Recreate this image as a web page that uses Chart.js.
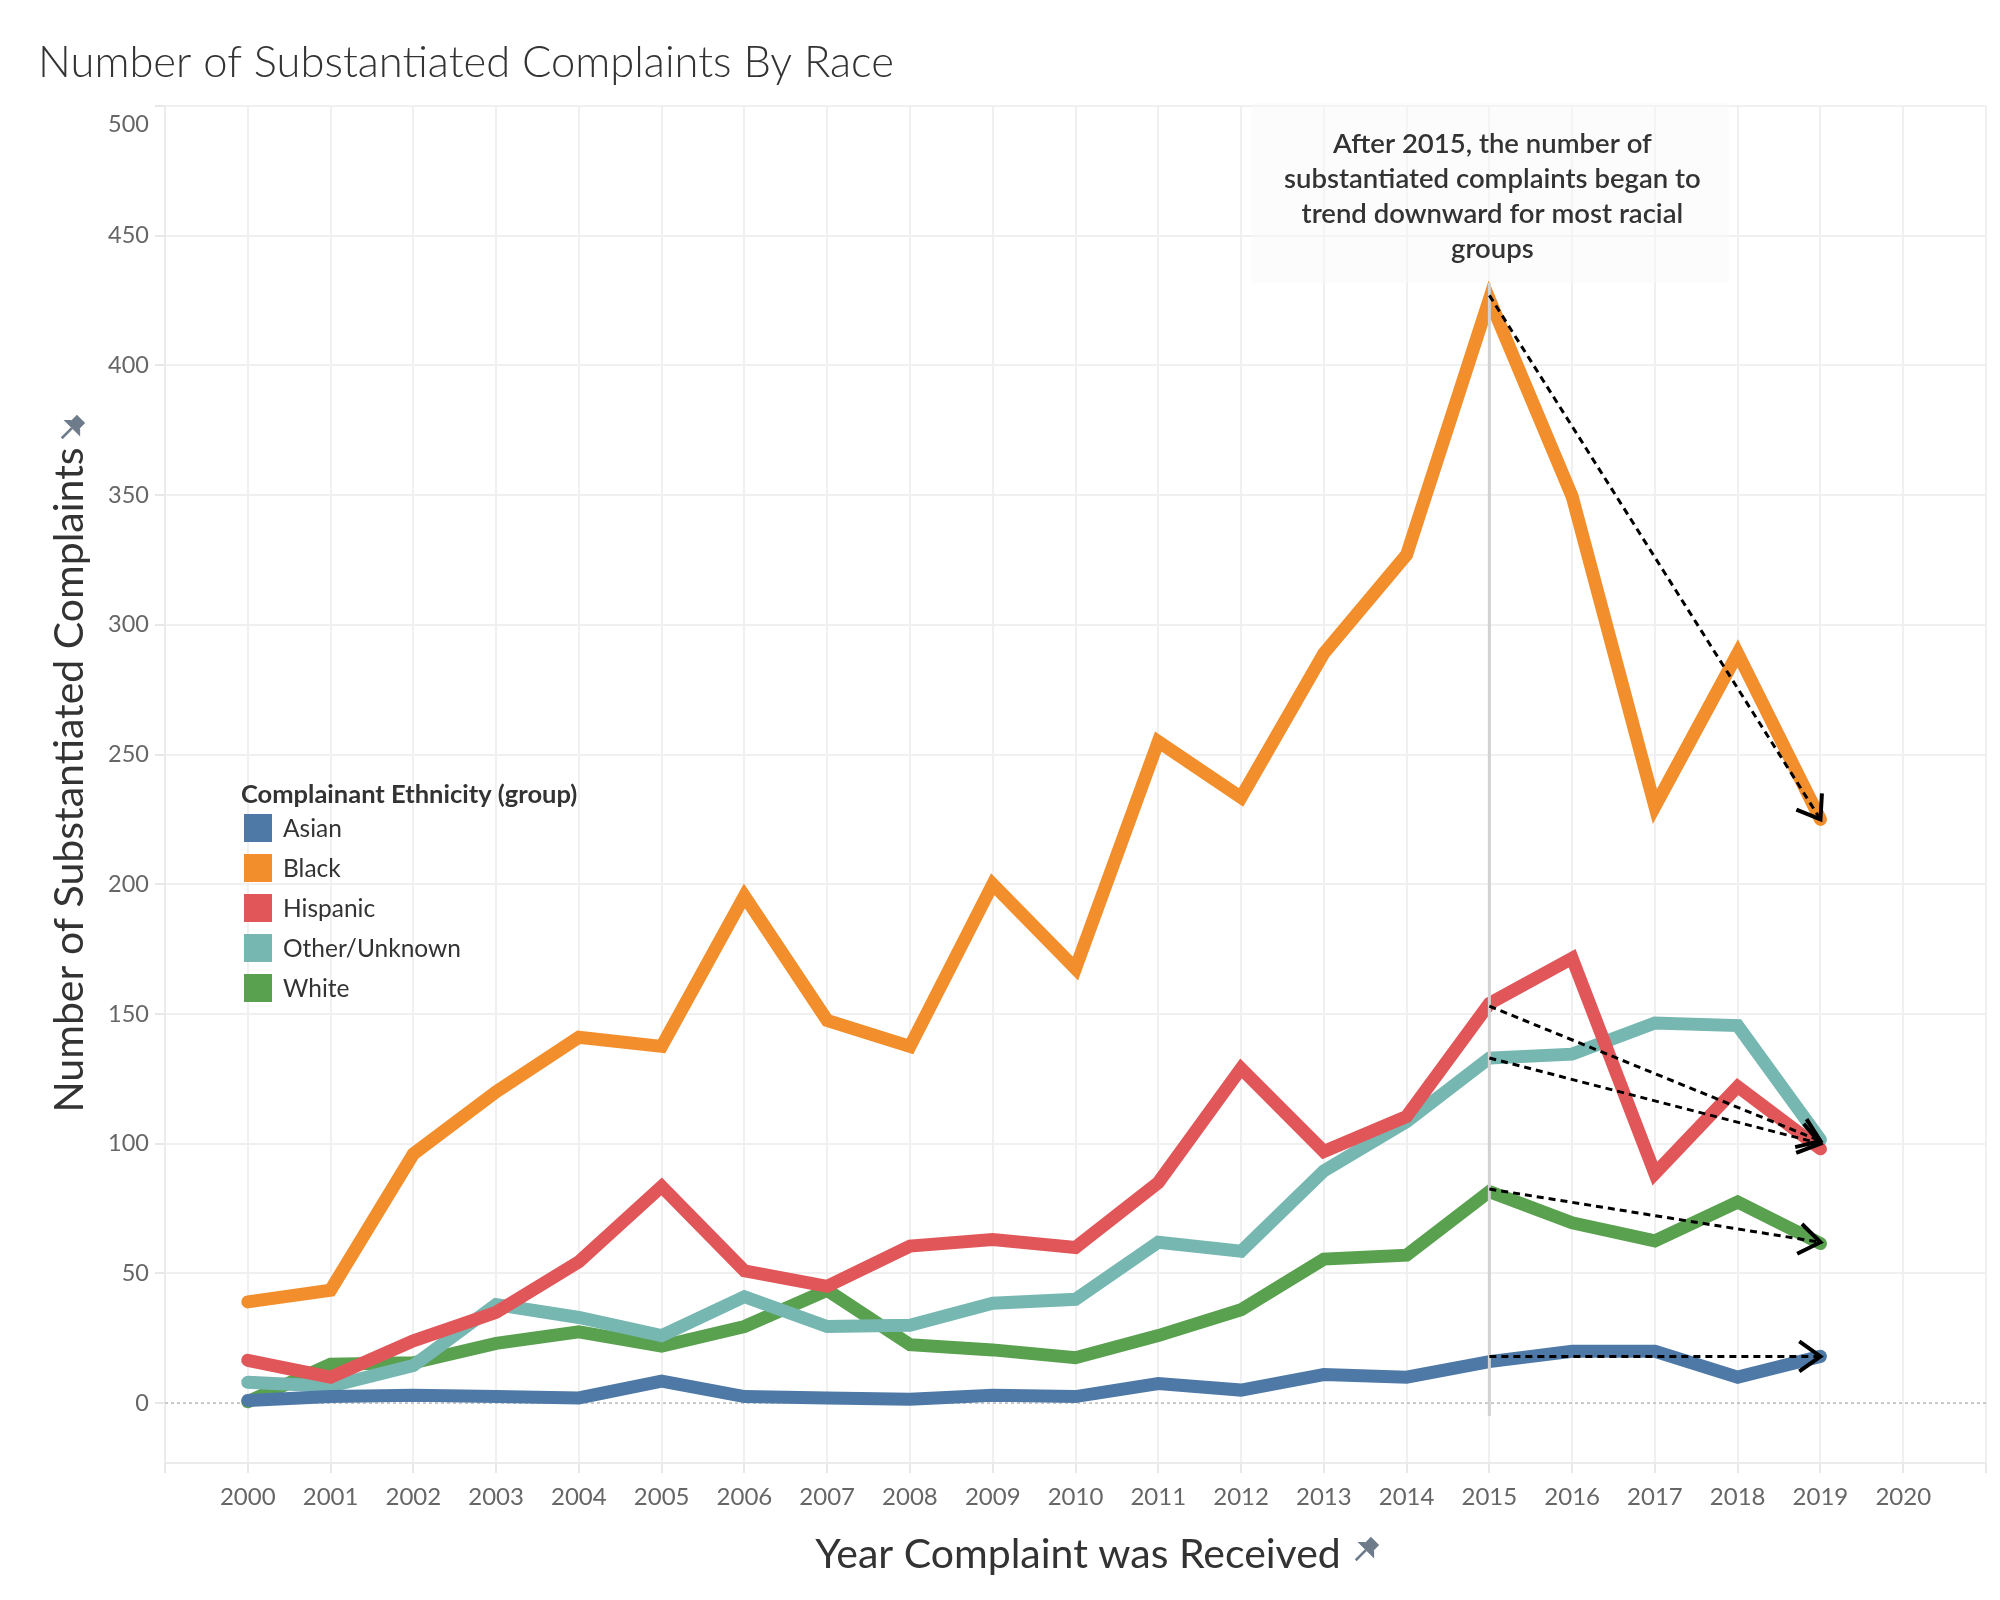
<!DOCTYPE html>
<html>
<head>
<meta charset="utf-8">
<script src="https://cdn.jsdelivr.net/npm/chart.js@4.4.0/dist/chart.umd.min.js"></script>
<style>
  html, body { margin: 0; padding: 0; background: #fff; }
  #wrap { width: 2000px; height: 1600px; }
</style>
</head>
<body>
<div id="wrap"><canvas id="raceChart" width="2000" height="1600"></canvas></div>
<script>
// values
const years = [2000, 2001, 2002, 2003, 2004, 2005, 2006, 2007, 2008, 2009,
               2010, 2011, 2012, 2013, 2014, 2015, 2016, 2017, 2018, 2019];
const groups = ['Asian', 'Black', 'Hispanic', 'Other/Unknown', 'White'];
const groupColors = ['#4e79a7', '#f28e2b', '#e15759', '#76b7b2', '#59a14f'];

const asian    = [1, 2.5, 3, 2.5, 2, 8.5, 2.5, 2, 1.5, 3, 2.5, 7.5, 5, 11, 10, 16, 20, 20, 10, 18];
const black    = [39, 43.5, 96, 120, 141, 137.5, 195.5, 147.5, 137.5, 200, 167.5, 255, 233.5, 289, 327, 425.5, 349.5, 230, 289, 225];
const hispanic = [16.5, 10, 24, 35, 54.5, 83.5, 51, 45, 60.5, 63, 60, 85, 129, 97, 110.5, 154, 171.5, 88.5, 122, 98];
const other    = [8, 6.5, 14.5, 38, 33, 26, 41, 29.5, 30, 38.5, 40, 62, 58.5, 89.5, 108.5, 133, 134.5, 146.5, 145.5, 101.5];
const white    = [0.5, 15, 15.5, 23, 27.5, 22, 29.5, 43.5, 22.5, 20.5, 17.5, 26, 36, 55.5, 57, 81.5, 69.5, 62.5, 77.5, 61.5];

const yTicks = [0, 50, 100, 150, 200, 250, 300, 350, 400, 450, 500];
const xTickYears = [2000, 2001, 2002, 2003, 2004, 2005, 2006, 2007, 2008, 2009, 2010,
                    2011, 2012, 2013, 2014, 2015, 2016, 2017, 2018, 2019, 2020];

// trend arrows 2015 -> 2019
const arrowFromYear = 2015;
const arrowToYear = 2019;
const arrowFromVals = [18, 427, 153, 133, 82.5];
const arrowToVals   = [18, 225, 101, 100, 62];

const refLineYear = 2015;
const noteLines = ['After 2015, the number of', 'substantiated complaints began to',
                   'trend downward for most racial', 'groups'];

const allSeries = [asian, black, hispanic, other, white];

Chart.defaults.font.family = 'Lato, "Noto Sans", sans-serif';

// little pushpin icon next to the axis titles
function drawPin(ctx, cx, cy) {
    ctx.save();
    ctx.translate(cx, cy);
    ctx.rotate(Math.PI / 4);
    ctx.scale(1.3, 1.3);
    ctx.fillStyle = '#6e7b8b';
    ctx.strokeStyle = '#6e7b8b';
    ctx.fillRect(-4.5, -12, 9, 8);
    ctx.beginPath();
    ctx.moveTo(-9, -2);
    ctx.lineTo(9, -2);
    ctx.lineTo(5, -6);
    ctx.lineTo(-5, -6);
    ctx.closePath();
    ctx.fill();
    ctx.lineWidth = 2;
    ctx.beginPath();
    ctx.moveTo(0, -2);
    ctx.lineTo(0, 9);
    ctx.stroke();
    ctx.restore();
}

const extrasPlugin = {
    id: 'extras',
    beforeDatasetsDraw(chart) {
        const {ctx, chartArea, scales} = chart;
        // dotted zero line
        const y0 = scales.y.getPixelForValue(0);
        ctx.save();
        ctx.strokeStyle = '#b8b8b8';
        ctx.lineWidth = 1.5;
        ctx.setLineDash([3, 3]);
        ctx.beginPath();
        ctx.moveTo(chartArea.left, y0);
        ctx.lineTo(chartArea.right, y0);
        ctx.stroke();
        ctx.restore();

        // faint note box
        const xr = scales.x.getPixelForValue(refLineYear);
        ctx.save();
        ctx.fillStyle = 'rgba(249,249,249,0.45)';
        ctx.fillRect(xr - 238, chartArea.top - 3, 478, 180);
        ctx.restore();
    },
    afterDatasetsDraw(chart) {
        const {ctx, chartArea, scales} = chart;
        const xr = scales.x.getPixelForValue(refLineYear);

        // reference line at 2015
        ctx.save();
        ctx.strokeStyle = '#d2d2d2';
        ctx.lineWidth = 3;
        ctx.beginPath();
        ctx.moveTo(xr, chartArea.top + 177);
        ctx.lineTo(xr, scales.y.getPixelForValue(-5));
        ctx.stroke();
        ctx.restore();

        // dashed arrows
        ctx.save();
        ctx.strokeStyle = '#000';
        for (let i = 0; i < arrowFromVals.length; i++) {
            const x1 = scales.x.getPixelForValue(arrowFromYear);
            const y1 = scales.y.getPixelForValue(arrowFromVals[i]);
            const x2 = scales.x.getPixelForValue(arrowToYear);
            const y2 = scales.y.getPixelForValue(arrowToVals[i]);
            ctx.lineWidth = 3;
            ctx.setLineDash([7, 5]);
            ctx.beginPath();
            ctx.moveTo(x1, y1);
            ctx.lineTo(x2, y2);
            ctx.stroke();
            const ang = Math.atan2(y2 - y1, x2 - x1);
            ctx.setLineDash([]);
            ctx.lineWidth = 4;
            ctx.beginPath();
            ctx.moveTo(x2 - 26 * Math.cos(ang - 0.62), y2 - 26 * Math.sin(ang - 0.62));
            ctx.lineTo(x2, y2);
            ctx.lineTo(x2 - 26 * Math.cos(ang + 0.62), y2 - 26 * Math.sin(ang + 0.62));
            ctx.stroke();
        }
        ctx.restore();

        // note text
        ctx.save();
        ctx.fillStyle = '#333';
        ctx.font = '600 27.5px Lato';
        ctx.textAlign = 'center';
        ctx.textBaseline = 'alphabetic';
        noteLines.forEach((t, i) => ctx.fillText(t, xr + 3, 153 + i * 35));
        ctx.restore();
    },
    afterDraw(chart) {
        const {ctx} = chart;
        ctx.save();
        // title
        ctx.fillStyle = '#333';
        ctx.font = '300 43.5px Lato';
        ctx.textAlign = 'left';
        ctx.textBaseline = 'alphabetic';
        ctx.fillText('Number of Substantiated Complaints By Race', 38, 77);

        // x axis title
        ctx.font = '400 41px Lato';
        ctx.textAlign = 'center';
        ctx.fillText('Year Complaint was Received', 1078, 1568);
        drawPin(ctx, 1364, 1552);

        // y axis title
        ctx.save();
        ctx.translate(83, 780);
        ctx.rotate(-Math.PI / 2);
        ctx.fillText('Number of Substantiated Complaints', 0, 0);
        ctx.restore();
        drawPin(ctx, 70, 430);

        // legend
        ctx.textAlign = 'left';
        ctx.font = '700 25.5px Lato';
        ctx.fillStyle = '#333';
        ctx.fillText('Complainant Ethnicity (group)', 241, 803);
        ctx.font = '400 24.5px Lato';
        ctx.textBaseline = 'middle';
        groups.forEach((g, i) => {
            ctx.fillStyle = groupColors[i];
            ctx.fillRect(244, 814 + i * 40, 28, 28);
            ctx.fillStyle = '#333';
            ctx.fillText(g, 283, 829 + i * 40);
        });
        ctx.restore();
    }
};

const ctx = document.getElementById('raceChart').getContext('2d');
const raceChart = new Chart(ctx, {
    type: 'line',
    data: {
        datasets: groups.map((g, i) => ({
            label: g,
            data: years.map((yr, j) => ({x: yr, y: allSeries[i][j]})),
            borderColor: groupColors[i],
            backgroundColor: groupColors[i],
            borderWidth: 13,
            borderCapStyle: 'round',
            borderJoinStyle: 'miter',
            pointRadius: 0,
            tension: 0
        }))
    },
    options: {
        responsive: false,
        animation: false,
        devicePixelRatio: 1,
        layout: { padding: { top: 106, right: 14, left: 0, bottom: 0 } },
        plugins: {
            legend: { display: false },
            tooltip: { enabled: false }
        },
        scales: {
            x: {
                type: 'linear',
                min: 1999,
                max: 2021,
                afterFit: s => { s.height = 137; },
                afterBuildTicks: s => {
                    s.ticks = [1999].concat(xTickYears, [2021]).map(v => ({value: v}));
                },
                ticks: {
                    stepSize: 1,
                    autoSkip: false,
                    maxRotation: 0,
                    padding: 10,
                    color: '#666',
                    font: { size: 24 },
                    callback: v => (xTickYears.includes(v) ? String(v) : '')
                },
                grid: { color: '#f0f0f0', lineWidth: 2, tickLength: 10, tickColor: '#e8e8e8' },
                border: { color: '#ebebeb', width: 2 }
            },
            y: {
                min: -23.1,
                max: 500,
                afterFit: s => { s.width = 165; },
                afterBuildTicks: s => {
                    s.ticks = yTicks.map(v => ({value: v}));
                },
                ticks: {
                    stepSize: 50,
                    padding: 6,
                    color: '#666',
                    font: { size: 23.5, lineHeight: 1.6 },
                    callback: v => (v === 500 ? ['', '500'] : String(v))
                },
                grid: {
                    color: c => (c.tick && c.tick.value === 0 ? 'rgba(0,0,0,0)' : '#f0f0f0'),
                    lineWidth: 2,
                    tickLength: 10,
                    tickColor: '#e8e8e8'
                },
                border: { color: '#ebebeb', width: 2 }
            }
        }
    },
    plugins: [extrasPlugin]
});
</script>
</body>
</html>
